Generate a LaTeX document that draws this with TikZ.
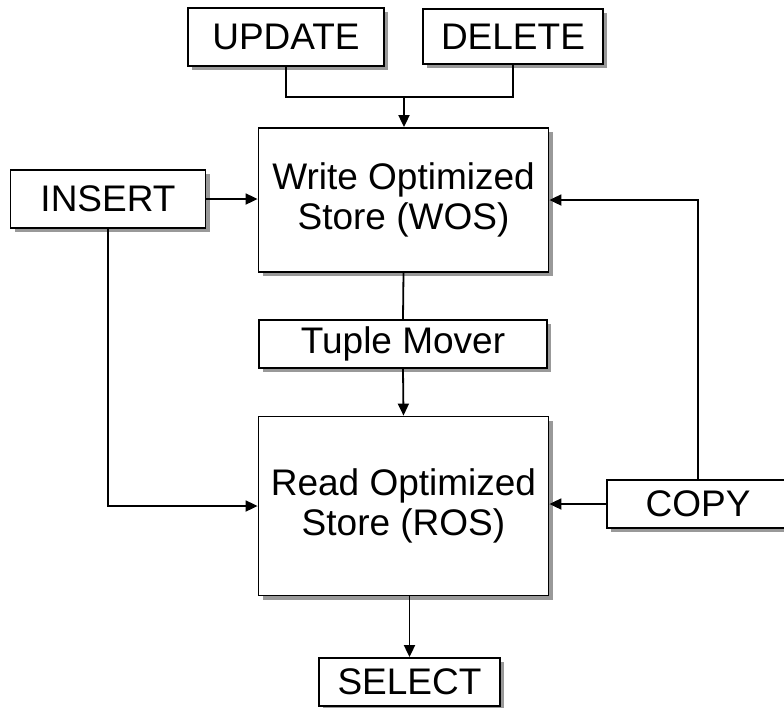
\documentclass[tikz,border=0pt]{standalone}
\usepackage{fontspec}
\setmainfont{Liberation Sans}
\usetikzlibrary{arrows.meta,shadows}

\begin{document}
\begin{tikzpicture}[
    x=0.5pt,y=-0.5pt,
    opbox/.style={rectangle,draw,line width=0.9pt,fill=white,inner sep=0pt,
      font=\fontsize{18.5}{20}\selectfont,align=center,
      drop shadow={shadow xshift=2.2pt,shadow yshift=-2.2pt,fill=black!40,opacity=1}},
    storebox/.style={opbox,minimum width=145pt,minimum height=72pt},
    conn/.style={line width=0.9pt},
    arr/.style={conn,-{Triangle[length=6pt,width=5.5pt]}}
    ]

    \useasboundingbox (0,0) rectangle (784,708);
    \clip (0,0) rectangle (784,708);

    \node (update) [opbox,minimum width=98pt,minimum height=29pt] at (286,37) {UPDATE};
    \node (delete) [opbox,minimum width=90pt,minimum height=27.5pt] at (513,36.5) {DELETE};
    \node (insert) [opbox,minimum width=97.5pt,minimum height=29pt] at (108,199) {INSERT};

    \node (wos) [storebox] at (403.5,200) {Write Optimized\\Store (WOS)};
    \node (tuple) [opbox,minimum width=144pt,minimum height=24pt] at (403,344) {Tuple Mover};
    \node (ros) [storebox,minimum height=89.5pt] at (403.5,506) {Read Optimized\\Store (ROS)};

    \node (copy) [opbox,minimum width=91pt,minimum height=24pt] at (698,504) {COPY};
    \node (select) [opbox,minimum width=90.5pt,minimum height=24pt] at (409.5,682) {SELECT};

    \coordinate (join) at (404,97);

    \draw[conn] (update.south) |- (join);
    \draw[conn] (delete.south) |- (join);
    \draw[arr] (join) -- (join |- wos.north);

    \draw[arr] (insert.east) -- (insert.east -| wos.west);
    \draw[arr] (insert.south) |- (ros.west);

    \draw[conn] (wos.south) -- (tuple.north);
    \draw[arr] (tuple.south) -- (ros.north);

    \draw[arr] (copy.west) -- (copy.west -| ros.east);
    \draw[arr] (copy.north) |- (wos.east);

    \draw[arr] (select.north |- ros.south) -- (select.north);

  \end{tikzpicture}
\end{document}
